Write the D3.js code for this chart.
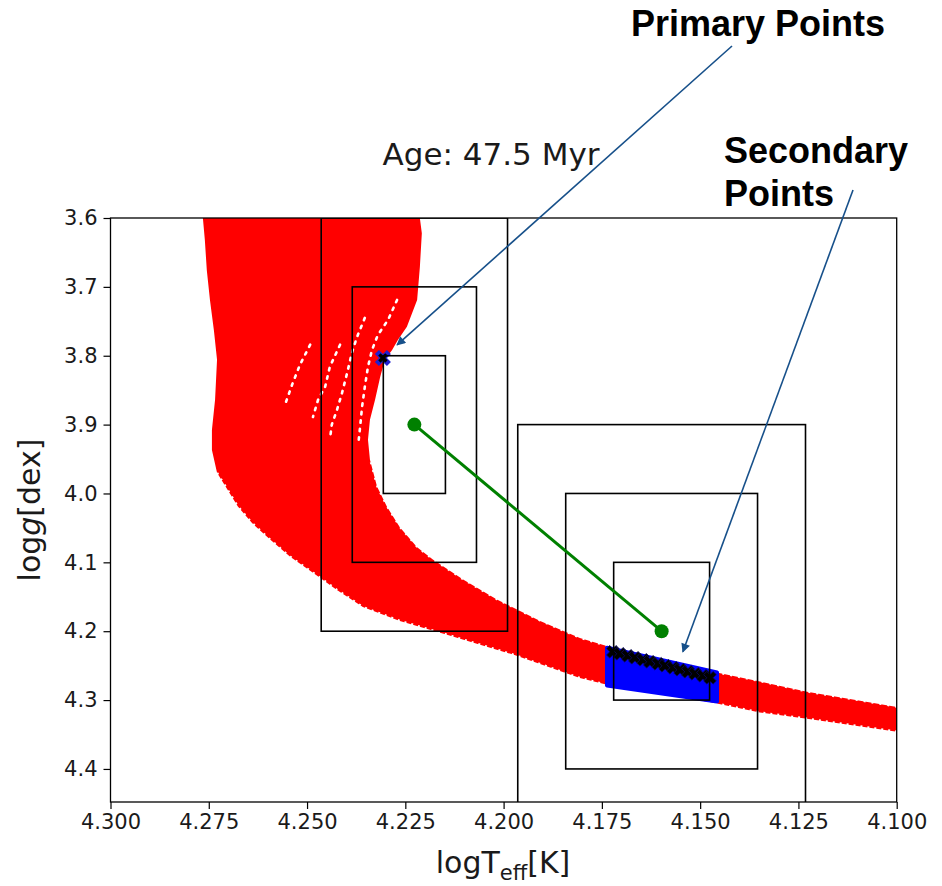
<!DOCTYPE html>
<meta charset="utf-8">
<head>
<style>

body { margin: 0; background: #fff; }

text {
  font-family: "DejaVu Sans", sans-serif;
  fill: #1a1a1a;
}

.tick line { stroke: #000; stroke-width: 1.2; }
.domain { display: none; }

.note {
  font-family: "Liberation Sans", Arial, sans-serif;
  font-weight: bold;
  font-size: 36px;
  fill: #000;
}

.pointer {
  stroke: #17508a;
  stroke-width: 1.6;
  fill: none;
}

</style>
</head>
<body>
<svg width="942" height="886"></svg>
<script src="https://d3js.org/d3.v7.min.js"></script>
<script>

// axis ticks
var xTicks = [4.300, 4.275, 4.250, 4.225, 4.200, 4.175, 4.150, 4.125, 4.100];
var yTicks = [3.6, 3.7, 3.8, 3.9, 4.0, 4.1, 4.2, 4.3, 4.4];

// observed stars (green) and their 1/2/3 sigma boxes
var starLogT = [4.2227, 4.1598];
var starLogg = [3.90, 4.20];
var starSigT = [0.0079, 0.0122];
var starSigG = [0.10, 0.10];
var sigmaLevels = [1, 2, 3];

// red isochrone band, outline: [logTeff, logg]
var bandLowerEdge = [
  [4.2765, 3.600], [4.2760, 3.632], [4.2755, 3.676], [4.2747, 3.719],
  [4.2737, 3.763], [4.2729, 3.806], [4.2734, 3.864], [4.2742, 3.908],
  [4.2742, 3.937], [4.2729, 3.970], [4.2676, 4.019], [4.2640, 4.043],
  [4.2594, 4.067], [4.2543, 4.092], [4.2485, 4.115], [4.2424, 4.140],
  [4.2358, 4.165], [4.2264, 4.185], [4.2144, 4.205], [4.1976, 4.234],
  [4.1806, 4.268], [4.1729, 4.279], [4.1467, 4.304], [4.1348, 4.318],
  [4.1228, 4.327], [4.0999, 4.346]
];
var bandUpperEdge = [
  [4.0999, 4.310], [4.1228, 4.288], [4.1348, 4.273], [4.1467, 4.259],
  [4.1729, 4.223], [4.1806, 4.210], [4.1907, 4.185], [4.2017, 4.154],
  [4.2103, 4.125], [4.2180, 4.096], [4.2220, 4.078], [4.2264, 4.049],
  [4.2297, 4.019], [4.2322, 3.990], [4.2340, 3.951], [4.2345, 3.922],
  [4.2340, 3.893], [4.2327, 3.864], [4.2314, 3.831], [4.2302, 3.806],
  [4.2284, 3.792], [4.2269, 3.777], [4.2246, 3.758], [4.2220, 3.719],
  [4.2213, 3.671], [4.2208, 3.622], [4.2213, 3.600]
];

// white gaps between the model tracks in the upper band
var gapTracks = [
  [[4.2271, 3.719], [4.2294, 3.748], [4.2320, 3.770], [4.2335, 3.792], [4.2345, 3.816],
   [4.2353, 3.845], [4.2360, 3.874], [4.2365, 3.903], [4.2370, 3.930]],
  [[4.2353, 3.745], [4.2373, 3.773], [4.2386, 3.796], [4.2398, 3.825], [4.2411, 3.854],
   [4.2424, 3.879], [4.2437, 3.900], [4.2442, 3.922]],
  [[4.2416, 3.784], [4.2442, 3.816], [4.2454, 3.845], [4.2472, 3.864], [4.2485, 3.889]],
  [[4.2492, 3.784], [4.2518, 3.813], [4.2538, 3.842], [4.2556, 3.871]]
];

// secondary matching region (blue) and its points (black)
var secondaryRegion = [[4.1737, 4.224], [4.1457, 4.260], [4.1457, 4.302], [4.1737, 4.279]];
var secondaryT = [4.1722, 4.1704, 4.1684, 4.1666, 4.1645, 4.1628, 4.1607,
                  4.1589, 4.1569, 4.1551, 4.1531, 4.1513, 4.1493, 4.1475];
var secondaryG = [4.2299, 4.2328, 4.2357, 4.2386, 4.2415, 4.2444, 4.2473,
                  4.2502, 4.2531, 4.2560, 4.2589, 4.2618, 4.2647, 4.2676];

// primary matching point
var primaryT = [4.2307];
var primaryG = [3.8032];

var svg = d3.select("svg"),
    pL = 110.5, pR = 896.7, pT = 218, pB = 802;

var x = d3.scaleLinear().domain([4.3, 4.1]).range([pL, pR]);
var y = d3.scaleLinear().domain([3.6, 4.448]).range([pT, pB]);

var line = d3.line()
    .x(function(d) { return x(d[0]); })
    .y(function(d) { return y(d[1]); });

var defs = svg.append("defs");

defs.append("clipPath").attr("id", "plot")
  .append("rect")
    .attr("x", pL).attr("y", pT)
    .attr("width", pR - pL).attr("height", pB - pT);

defs.append("marker")
    .attr("id", "head")
    .attr("viewBox", "0 0 10 10")
    .attr("refX", 9).attr("refY", 5)
    .attr("markerWidth", 10).attr("markerHeight", 9)
    .attr("markerUnits", "userSpaceOnUse")
    .attr("orient", "auto")
  .append("path")
    .attr("d", "M0,0L10,5L0,10Z")
    .attr("fill", "#17508a");

var plot = svg.append("g").attr("clip-path", "url(#plot)");

// red band
plot.append("path")
    .attr("d", line(bandLowerEdge.concat(bandUpperEdge)) + "Z")
    .attr("fill", "#ff0000");

// ragged marker edges of the band
plot.append("path")
    .attr("d", line(bandLowerEdge.slice(9)))
    .attr("fill", "none")
    .attr("stroke", "#fff")
    .attr("stroke-width", 2.4)
    .attr("stroke-dasharray", "2 5");

plot.append("path")
    .attr("d", line(bandUpperEdge.slice(0, 15)))
    .attr("fill", "none")
    .attr("stroke", "#fff")
    .attr("stroke-width", 1.6)
    .attr("stroke-dasharray", "2 6");

plot.selectAll(".gap")
  .data(gapTracks)
  .enter().append("path")
    .attr("class", "gap")
    .attr("d", line)
    .attr("fill", "none")
    .attr("stroke", "#fff")
    .attr("stroke-width", 2.6)
    .attr("stroke-linecap", "round")
    .attr("stroke-dasharray", "2.5 6");

// blue region + points
plot.append("path")
    .attr("d", line(secondaryRegion) + "Z")
    .attr("fill", "#0000ff")
    .attr("stroke", "#0000ff")
    .attr("stroke-width", 4)
    .attr("stroke-linejoin", "round");

plot.selectAll(".sec")
  .data(secondaryT)
  .enter().append("path")
    .attr("class", "sec")
    .attr("d", d3.symbol().type(d3.symbolCross).size(100))
    .attr("fill", "#000")
    .attr("stroke", "#0a0a60")
    .attr("stroke-width", 0.8)
    .attr("transform", function(d, i) {
      return "translate(" + x(d) + "," + y(secondaryG[i]) + ") rotate(45)";
    });

primaryT.forEach(function(t, i) {
  plot.append("path")
      .attr("d", d3.symbol().type(d3.symbolCross).size(160)())
      .attr("fill", "#2020d0")
      .attr("transform", "translate(" + x(t) + "," + y(primaryG[i]) + ") rotate(45)");
  plot.append("path")
      .attr("d", d3.symbol().type(d3.symbolCross).size(55)())
      .attr("fill", "#000")
      .attr("transform", "translate(" + x(t) + "," + y(primaryG[i]) + ") rotate(45)");
});

// sigma boxes
var boxes = [];
starLogT.forEach(function(t, i) {
  sigmaLevels.forEach(function(k) {
    boxes.push({t0: t + k * starSigT[i], t1: t - k * starSigT[i],
                g0: starLogg[i] - k * starSigG[i], g1: starLogg[i] + k * starSigG[i]});
  });
});

plot.selectAll(".box")
  .data(boxes)
  .enter().append("rect")
    .attr("class", "box")
    .attr("x", function(d) { return x(d.t0); })
    .attr("y", function(d) { return y(d.g0); })
    .attr("width", function(d) { return x(d.t1) - x(d.t0); })
    .attr("height", function(d) { return y(d.g1) - y(d.g0); })
    .attr("fill", "none")
    .attr("stroke", "#000")
    .attr("stroke-width", 1.6);

// green link between the two stars
var stars = starLogT.map(function(t, i) { return [t, starLogg[i]]; });

plot.append("path")
    .attr("d", line(stars))
    .attr("stroke", "#008000")
    .attr("stroke-width", 3)
    .attr("fill", "none");

plot.selectAll(".star")
  .data(stars)
  .enter().append("circle")
    .attr("class", "star")
    .attr("cx", function(d) { return x(d[0]); })
    .attr("cy", function(d) { return y(d[1]); })
    .attr("r", 7)
    .attr("fill", "#008000");

// frame
svg.append("rect")
    .attr("x", pL).attr("y", pT)
    .attr("width", pR - pL).attr("height", pB - pT)
    .attr("fill", "none")
    .attr("stroke", "#000")
    .attr("stroke-width", 1.3);

// axes
var gx = svg.append("g")
    .attr("transform", "translate(0," + pB + ")")
    .call(d3.axisBottom(x).tickValues(xTicks).tickFormat(d3.format(".3f")).tickSize(7).tickPadding(5));
gx.selectAll("text").style("font-size", "21px").style("fill", "#1a1a1a");

var gy = svg.append("g")
    .attr("transform", "translate(" + pL + ",0)")
    .call(d3.axisLeft(y).tickValues(yTicks).tickFormat(d3.format(".1f")).tickSize(7).tickPadding(6));
gy.selectAll("text").style("font-size", "21px").style("fill", "#1a1a1a");

// title & labels
svg.append("text")
    .attr("x", 491).attr("y", 165)
    .attr("text-anchor", "middle")
    .style("font-size", "31px")
    .text("Age: 47.5 Myr");

var xl = svg.append("text")
    .attr("x", 503).attr("y", 873)
    .attr("text-anchor", "middle")
    .style("font-size", "30px");
xl.append("tspan").text("logT");
xl.append("tspan").attr("dy", 7).style("font-size", "21px").text("eff");
xl.append("tspan").attr("dy", -7).text("[K]");

var yl = svg.append("text")
    .attr("transform", "translate(40," + ((pT + pB) / 2) + ") rotate(-90)")
    .attr("text-anchor", "middle")
    .style("font-size", "30px");
yl.append("tspan").text("log");
yl.append("tspan").style("font-style", "italic").text("g");
yl.append("tspan").text("[dex]");

// annotations
svg.append("text").attr("class", "note").attr("x", 631).attr("y", 36).text("Primary Points");
svg.append("text").attr("class", "note").attr("x", 724).attr("y", 163).text("Secondary");
svg.append("text").attr("class", "note").attr("x", 724).attr("y", 206).text("Points");

svg.append("line").attr("class", "pointer")
    .attr("x1", 732).attr("y1", 46)
    .attr("x2", x(4.2271)).attr("y2", y(3.7843))
    .attr("marker-end", "url(#head)");

svg.append("line").attr("class", "pointer")
    .attr("x1", 853).attr("y1", 190)
    .attr("x2", x(4.1544)).attr("y2", y(4.2299))
    .attr("marker-end", "url(#head)");

</script>
</body>
</html>
